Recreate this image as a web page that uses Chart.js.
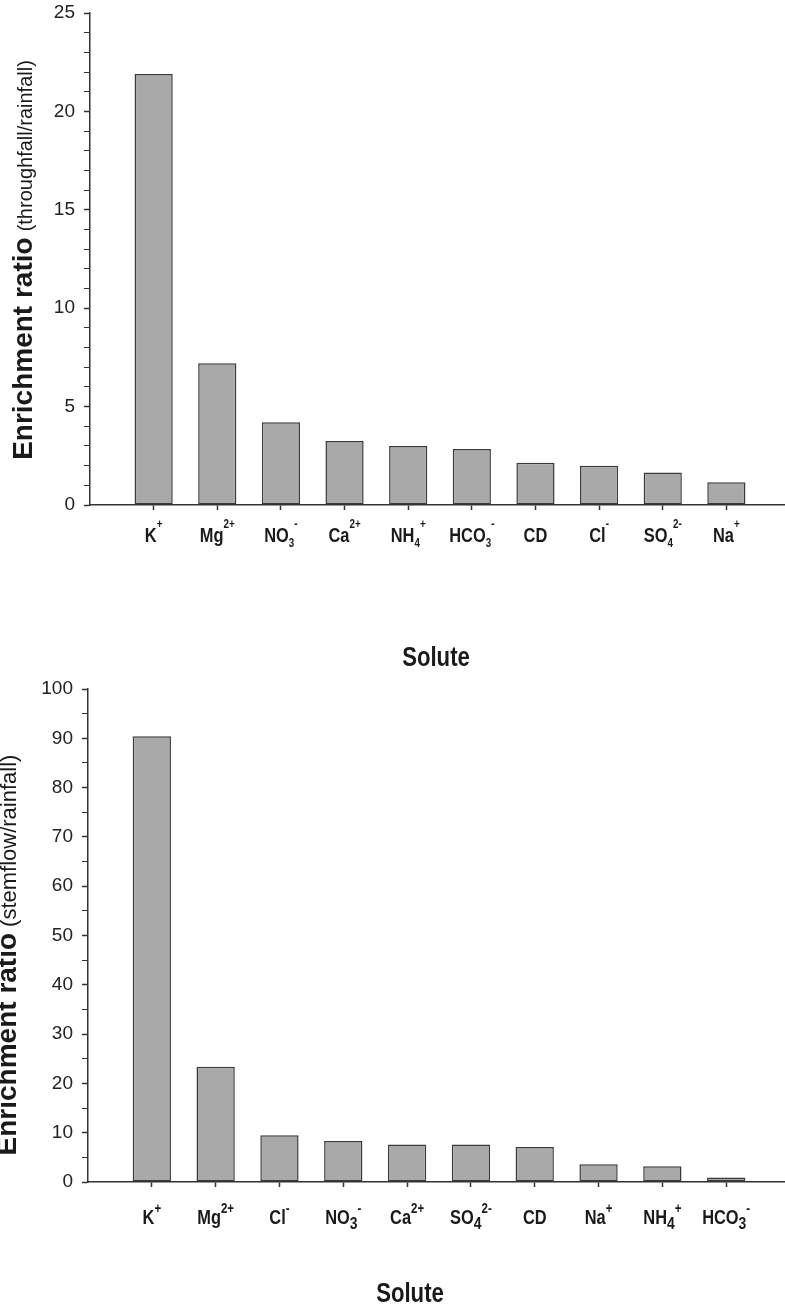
<!DOCTYPE html>
<html>
<head>
<meta charset="utf-8">
<script src="https://cdn.jsdelivr.net/npm/chart.js@4.4.1/dist/chart.umd.min.js"></script>
<style>
  html, body { margin: 0; padding: 0; background: #fff; overflow: hidden; width: 785px; height: 1312px; position: relative; }
  canvas { position: absolute; left: 0; }
  #throughfall { top: -8px; }
  #stemflow { top: 668px; }
</style>
</head>
<body>
<canvas id="throughfall" width="790" height="688"></canvas>
<canvas id="stemflow" width="790" height="644"></canvas>
<script>
// _x = subscript, ^x = superscript
const throughfallSolutes = ['K^+', 'Mg^2+', 'NO_3^-', 'Ca^2+', 'NH_4^+', 'HCO_3^-', 'CD', 'Cl^-', 'SO_4^2-', 'Na^+'];
const throughfallRatio = [21.9, 7.2, 4.2, 3.25, 3.0, 2.85, 2.15, 2.0, 1.65, 1.15];
const throughfallTicks = [0, 5, 10, 15, 20, 25];

const stemflowSolutes = ['K^+', 'Mg^2+', 'Cl^-', 'NO_3^-', 'Ca^2+', 'SO_4^2-', 'CD', 'Na^+', 'NH_4^+', 'HCO_3^-'];
const stemflowRatio = [90.4, 23.4, 9.5, 8.3, 7.6, 7.6, 7.1, 3.6, 3.2, 0.9];
const stemflowTicks = [0, 10, 20, 30, 40, 50, 60, 70, 80, 90, 100];

const FONT = '"Liberation Sans", Arial, Helvetica, sans-serif';
const INK = '#1a1a1a';

// draws the chemical labels, the x title and the two-part y title
const soluteText = {
    id: 'soluteText',
    afterDraw(chart, args, o) {
        const { ctx, chartArea } = chart;
        const xs = chart.scales.x;
        ctx.save();
        ctx.fillStyle = INK;
        ctx.textBaseline = 'alphabetic';
        ctx.textAlign = 'left';

        chart.data.labels.forEach((lab, i) => {
            if (!lab) return;
            const parts = lab.split(/([_^])/);
            const runs = [{ t: parts[0], size: o.base, dy: 0 }];
            for (let k = 1; k < parts.length; k += 2) {
                if (parts[k] === '_') runs.push({ t: parts[k + 1], size: o.sub, dy: o.subDy });
                else runs.push({ t: parts[k + 1], size: o.sup, dy: -o.supDy });
            }
            let w = 0;
            runs.forEach(r => {
                ctx.font = `bold ${r.size}px ${FONT}`;
                r.w = ctx.measureText(r.t).width * o.narrow;
                w += r.w;
            });
            let cx = xs.getPixelForTick(i) - w / 2;
            const by = chartArea.bottom + o.labelY;
            runs.forEach(r => {
                ctx.font = `bold ${r.size}px ${FONT}`;
                ctx.save();
                ctx.translate(cx, by + r.dy);
                ctx.scale(o.narrow, 1);
                ctx.fillText(r.t, 0, 0);
                ctx.restore();
                cx += r.w;
            });
        });

        // x title
        ctx.font = `bold ${o.titleSize}px ${FONT}`;
        const tw = ctx.measureText(o.xTitle).width * o.narrow;
        ctx.save();
        ctx.translate(o.titleX - tw / 2, o.titleY);
        ctx.scale(o.narrow, 1);
        ctx.fillText(o.xTitle, 0, 0);
        ctx.restore();

        // y title
        ctx.save();
        ctx.translate(o.yTitleX, o.yTitleMid);
        ctx.rotate(-Math.PI / 2);
        ctx.font = `bold ${o.yMainSize}px ${FONT}`;
        const m1 = ctx.measureText(o.yMain).width;
        ctx.font = `${o.ySubSize}px ${FONT}`;
        const m2 = ctx.measureText(o.ySub).width;
        const start = -(m1 + o.yGap + m2) / 2;
        ctx.font = `bold ${o.yMainSize}px ${FONT}`;
        ctx.fillText(o.yMain, start, 0);
        ctx.font = `${o.ySubSize}px ${FONT}`;
        ctx.fillText(o.ySub, start + m1 + o.yGap, 0);
        ctx.restore();

        ctx.restore();
    }
};

function makeChart(id, solutes, values, yMax, yStep, yLabels, axisLeft, padTop, axisHeight, text) {
    const last = solutes.length + 1;
    return new Chart(document.getElementById(id), {
        type: 'bar',
        data: {
            labels: ['', ...solutes, ''],
            datasets: [{
                data: [null, ...values, null],
                backgroundColor: '#a9a9a9',
                borderColor: '#3a3a3a',
                borderWidth: 1.5,
                borderSkipped: false,
                categoryPercentage: 0.6,
                barPercentage: 1
            }]
        },
        options: {
            responsive: false,
            animation: false,
            events: [],
            layout: { padding: { top: padTop, left: 0, right: 0, bottom: 0 } },
            plugins: { legend: { display: false }, tooltip: { enabled: false }, soluteText: text },
            scales: {
                x: {
                    type: 'category',
                    offset: false,
                    afterFit: s => { s.height = axisHeight; },
                    ticks: { display: false },
                    grid: {
                        offset: false,
                        drawOnChartArea: false,
                        tickLength: 5,
                        tickWidth: 1.5,
                        tickColor: c => (c.index === 0 || c.index === last) ? 'rgba(0,0,0,0)' : '#333'
                    },
                    border: { color: '#333', width: 1.5 }
                },
                y: {
                    min: 0,
                    max: yMax,
                    afterFit: s => { s.width = axisLeft; },
                    ticks: {
                        stepSize: yStep,
                        autoSkip: false,
                        padding: 9,
                        color: '#222',
                        font: { family: FONT, size: 19 },
                        callback: v => yLabels.includes(v) ? String(v) : ''
                    },
                    grid: {
                        drawOnChartArea: false,
                        tickLength: 6,
                        tickColor: '#333',
                        tickWidth: c => yLabels.includes(c.tick.value) ? 1.5 : 1
                    },
                    border: { color: '#333', width: 1.5 }
                }
            }
        },
        plugins: [soluteText]
    });
}

// canvas-local positions: top canvas sits 8px above the page, bottom one at 668px
makeChart('throughfall', throughfallSolutes, throughfallRatio, 25, 1, throughfallTicks, 90, 21, 175, {
    base: 20, sub: 12, sup: 12, subDy: 5, supDy: 14, labelY: 37, narrow: 0.82,
    xTitle: 'Solute', titleSize: 27, titleX: 436, titleY: 674,
    yMain: 'Enrichment ratio', yMainSize: 28, ySub: '(throughfall/rainfall)', ySubSize: 20, yGap: 6,
    yTitleX: 32, yTitleMid: 268
});

makeChart('stemflow', stemflowSolutes, stemflowRatio, 100, 5, stemflowTicks, 88, 21, 130, {
    base: 20, sub: 17, sup: 14, subDy: 5, supDy: 11, labelY: 42, narrow: 0.82,
    xTitle: 'Solute', titleSize: 27, titleX: 410, titleY: 634,
    yMain: 'Enrichment ratio', yMainSize: 28, ySub: '(stemflow/rainfall)', ySubSize: 22, yGap: 6,
    yTitleX: 16, yTitleMid: 287
});
</script>
</body>
</html>
